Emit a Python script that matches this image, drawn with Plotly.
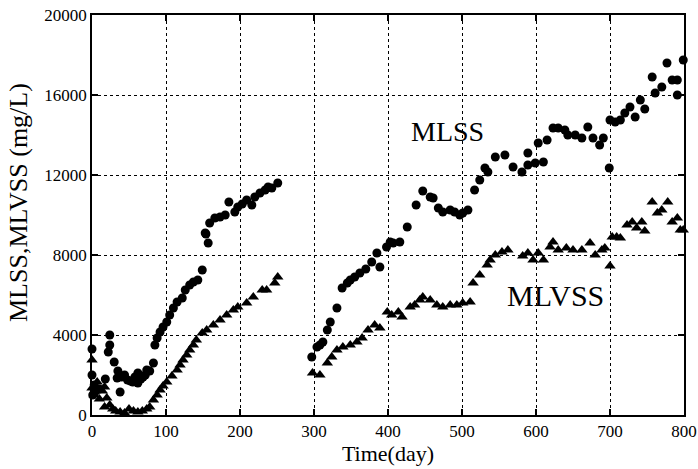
import plotly.graph_objects as go

# MLSS (circles)
mlss_day = [0, 0, 1, 3, 5, 10, 18, 22, 24, 24, 30, 34, 35, 38, 40, 44, 48, 52, 55, 58, 62, 62, 66, 69, 72, 74, 78, 83,
            85, 88, 92, 96, 101, 105, 110, 115, 122, 126, 132, 137, 143, 149, 154, 157, 153, 159, 166, 173, 180, 185,
            193, 197, 203, 209, 216, 220, 227, 234, 238, 243, 251,
            297, 304, 308, 312, 318, 322, 331, 338, 345, 349, 355, 362, 370, 378, 385, 389, 398, 403, 407, 416, 426,
            438, 447, 457, 461, 468, 474, 484, 490, 497, 501, 508, 517, 524, 531, 535, 545, 558, 569, 581, 589, 589,
            599, 603, 610, 615, 623, 630, 639, 643, 653, 662, 670, 677, 686, 691, 699, 700, 707, 714, 720, 727, 734,
            741, 747, 757, 761, 770, 777, 784, 791, 791, 799]
mlss_val = [3300, 2000, 1000, 1500, 1200, 1300, 1800, 3150, 3500, 4000, 2650, 1850, 2200, 1150, 1900, 2000, 1750, 1700,
            1650, 1900, 2100, 1600, 1800, 1900, 2000, 2250, 2200, 2600,
            3500, 3850, 4150, 4400, 4650, 5000, 5350, 5650, 5850, 6250, 6500, 6650, 6750, 7250, 9050, 8600, 9100,
            9600, 9850, 9900, 10000, 10650, 10150, 10400, 10550, 10750, 10500, 10900, 11100, 11250, 11400, 11350,
            11600,
            2900, 3400, 3500, 3650, 4250, 4650, 5350, 6350, 6600, 6750, 6900, 7100, 7300, 7650, 8100, 7400, 8400,
            8650, 8600, 8650, 9400, 10500, 11200, 10900, 10850, 10350, 10150, 10250, 10150, 10000, 10100, 10250,
            11250, 11750, 12350, 12150, 12900, 13000, 12400, 12150, 12500, 13100, 12600, 13600, 12650, 13750, 14350,
            14350, 14250, 14000, 14000, 13850, 14400, 13850, 13500, 13850, 12350, 14750, 14650, 14750, 15100, 15400,
            14900, 15750, 15300, 16900, 16100, 16400, 17600, 16750, 16750, 16000, 17750]

# MLVSS (triangles)
mlvss_day = [0, 0, 3, 7, 10, 14, 17, 17, 20, 24, 28, 32, 38, 44, 50, 56, 62, 68, 74, 78, 83, 88, 92, 96, 101, 108, 115,
             119, 123, 128, 132, 137, 141, 149, 155, 164, 173, 182, 191, 197, 209, 218, 230, 236, 247, 251,
             298, 308, 318, 324, 331, 339, 349, 358, 365, 373, 382, 389, 399, 405, 414, 419, 430, 436, 443, 447,
             457, 466, 474, 484, 493, 501, 511, 515, 524, 534, 538, 545, 554, 562, 582, 589, 596, 603, 610, 619,
             623, 630, 641, 650, 662, 673, 680, 689, 693, 700, 703, 709, 714, 723, 730, 736, 743, 747, 757, 764,
             770, 778, 784, 791, 795, 799]
mlvss_val = [2750, 1350, 1000, 1650, 800, 1200, 1400, 400, 850, 500, 300, 200, 150, 100, 300, 200, 150, 200, 300, 400,
             750, 1000, 1250, 1450, 1650, 1950, 2250, 2500, 2750, 3000, 3250, 3500, 3750, 4100, 4250, 4500, 4750,
             5000, 5250, 5400, 5600, 5900, 6250, 6250, 6600, 6900,
             2100, 2000, 2600, 2900, 3250, 3400, 3500, 3650, 3850, 4250, 4500, 4350, 5150, 5000, 5150, 4900, 5400,
             5500, 5750, 5900, 5750, 5500, 5400, 5500, 5500, 5600, 5650, 6600, 7000, 7500, 7750, 8000, 8150, 8250,
             7950, 8100, 7750, 8100, 7750, 8400, 8650, 8250, 8350, 8250, 8250, 8600, 8000, 8250, 8350, 7450, 8900,
             8900, 8850, 9500, 9650, 9350, 9650, 9200, 10650, 10100, 10250, 10650, 9650, 9850, 9250, 9250]

x_ticks = [0, 100, 200, 300, 400, 500, 600, 700, 800]
y_ticks = [0, 4000, 8000, 12000, 16000, 20000]

FONT = "Liberation Serif, Times New Roman, serif"

fig = go.Figure()
fig.add_trace(go.Scatter(x=mlss_day, y=mlss_val, mode="markers", name="MLSS", cliponaxis=False,
                         marker=dict(symbol="circle", size=9, color="black")))
fig.add_trace(go.Scatter(x=mlvss_day, y=mlvss_val, mode="markers", name="MLVSS", cliponaxis=False,
                         marker=dict(symbol="triangle-up", size=10, color="black")))

fig.add_annotation(x=481, y=14200, text="MLSS", showarrow=False,
                   font=dict(family=FONT, size=28, color="black"))
fig.add_annotation(x=626, y=6000, text="MLVSS", showarrow=False,
                   font=dict(family=FONT, size=30, color="black"))

# y-axis title placed as an annotation so its size/centre can follow the reference
fig.add_annotation(xref="paper", yref="paper", x=-0.125, y=0.53, xanchor="center", yanchor="middle",
                   text="MLSS,MLVSS (mg/L)", textangle=-90, showarrow=False,
                   font=dict(family=FONT, size=26, color="black"))

axis_common = dict(showline=True, linecolor="black", linewidth=1.5, mirror="allticks",
                   ticks="inside", ticklen=6, tickcolor="black", tickwidth=1.5,
                   showgrid=True, gridcolor="black", gridwidth=1, griddash="dot",
                   zeroline=False, automargin=False,
                   tickfont=dict(family=FONT, size=17, color="black"))

fig.update_xaxes(range=[0, 800], tickvals=x_ticks, ticktext=[str(v) for v in x_ticks],
                 title=dict(text="Time(day)", font=dict(family=FONT, size=22, color="black"), standoff=2),
                 **axis_common)
fig.update_yaxes(range=[0, 20000], tickvals=y_ticks, ticktext=[str(v) for v in y_ticks],
                 **axis_common)

fig.update_layout(width=698, height=469, showlegend=False,
                  plot_bgcolor="white", paper_bgcolor="white",
                  margin=dict(l=92, r=14, t=15, b=54))

fig.write_html("out.html", config={"displayModeBar": False},
               post_script="document.body.style.margin='0';document.body.style.overflow='hidden';")
